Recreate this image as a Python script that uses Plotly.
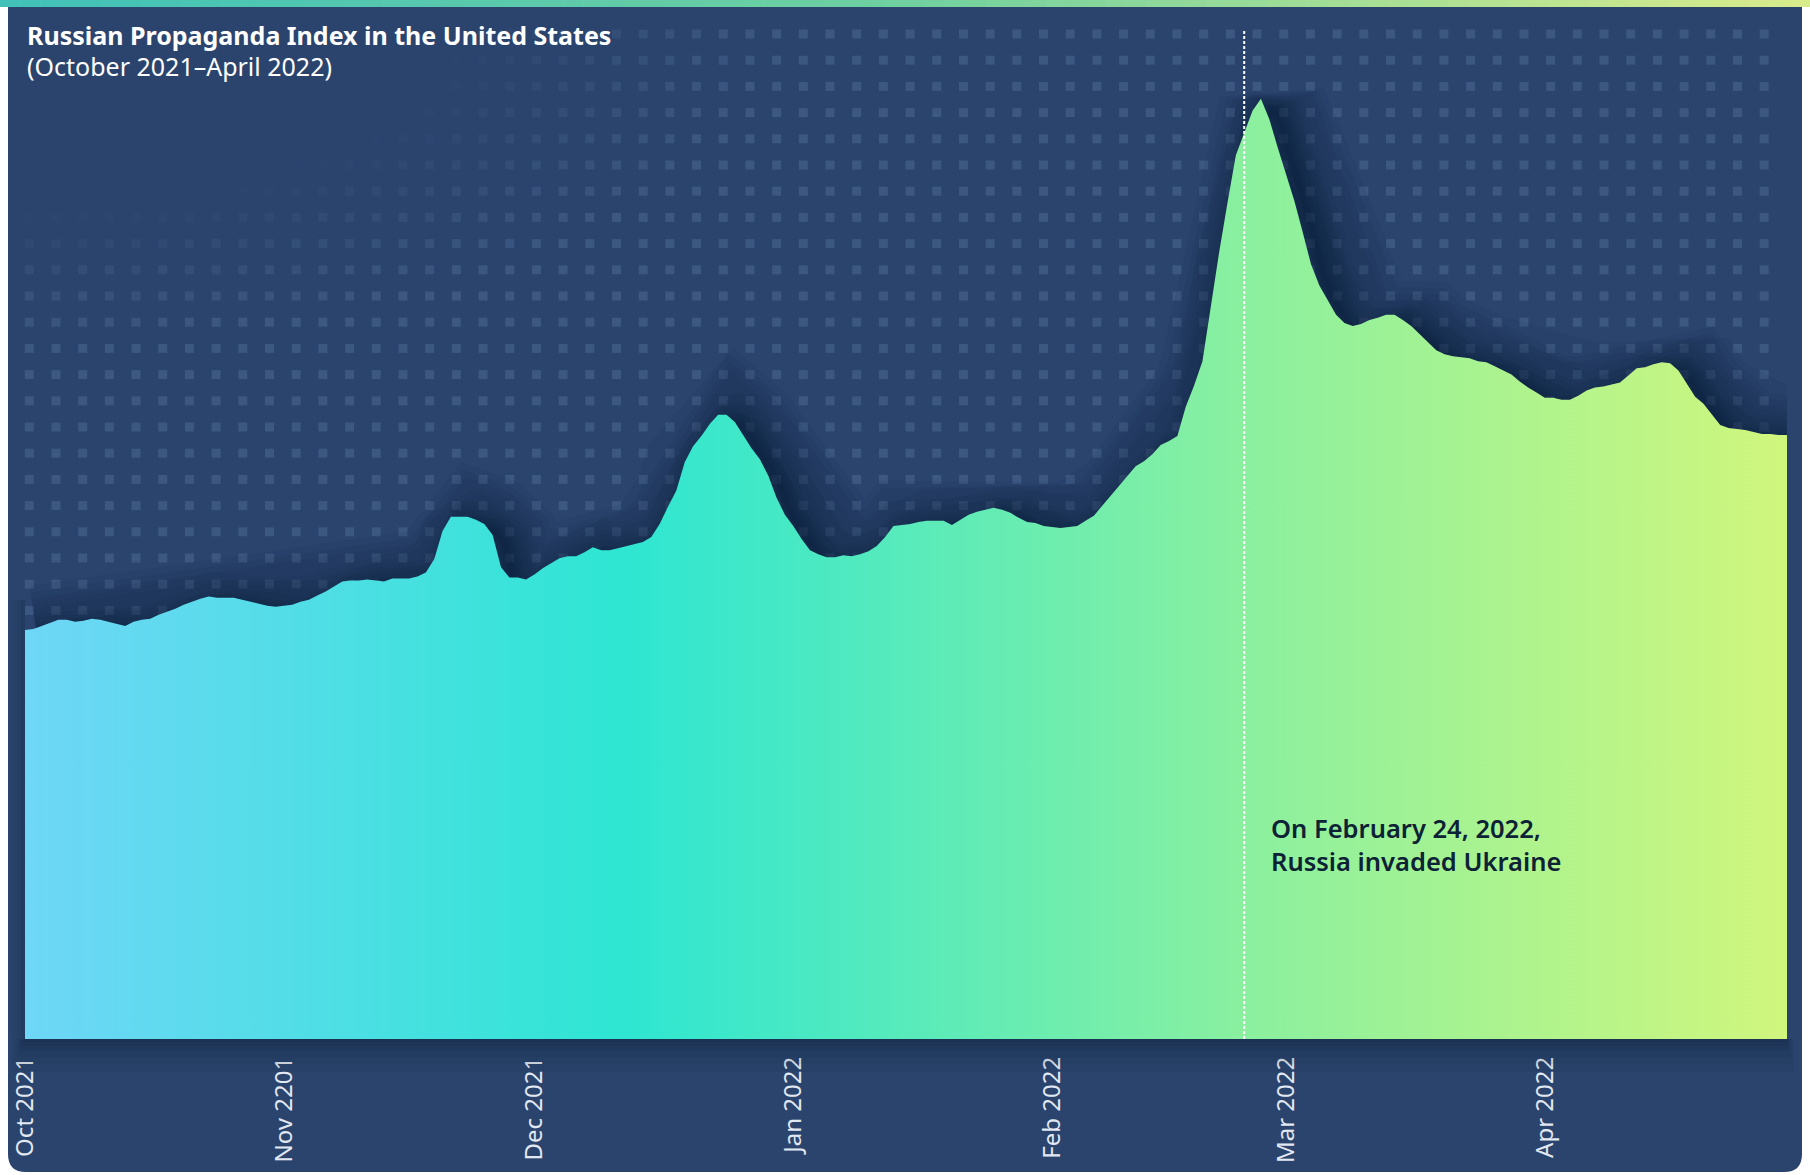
import numpy as np
import pandas as pd
import plotly.graph_objects as go

# ---- data -------------------------------------------------------------
dates = pd.date_range("2021-10-01", "2022-04-30", freq="D")

index_values = [
    40.5, 40.6, 40.9, 41.2, 41.5, 41.5, 41.3, 41.4, 41.6, 41.5,
    41.3, 41.1, 40.9, 41.3, 41.5, 41.6, 42.0, 42.3, 42.6, 43.0,
    43.3, 43.6, 43.8, 43.7, 43.7, 43.7, 43.5, 43.3, 43.1, 42.9,
    42.8, 42.9, 43.0, 43.3, 43.5, 43.9, 44.3, 44.8, 45.3, 45.4,
    45.4, 45.5, 45.4, 45.3, 45.6, 45.6, 45.6, 45.8, 46.2, 47.5,
    50.3, 51.7, 51.7, 51.7, 51.4, 51.0, 49.9, 46.7, 45.7, 45.7,
    45.5, 46.0, 46.6, 47.1, 47.6, 47.8, 47.8, 48.2, 48.7, 48.4,
    48.4, 48.6, 48.8, 49.0, 49.2, 49.7, 51.0, 52.7, 54.3, 57.1,
    58.7, 59.7, 60.9, 61.8, 61.8, 61.1, 59.8, 58.5, 57.4, 55.8,
    53.6, 51.9, 50.8, 49.5, 48.4, 48.0, 47.7, 47.7, 47.9, 47.8,
    48.0, 48.3, 48.8, 49.7, 50.8, 50.9, 51.0, 51.2, 51.3, 51.3,
    51.3, 50.9, 51.4, 51.9, 52.2, 52.4, 52.6, 52.4, 52.1, 51.6,
    51.2, 51.1, 50.8, 50.7, 50.6, 50.7, 50.8, 51.3, 51.8, 52.8,
    53.8, 54.8, 55.7, 56.7, 57.2, 57.9, 58.8, 59.2, 59.7, 62.6,
    64.7, 67.1, 72.5, 77.9, 82.8, 87.5, 89.7, 91.9, 93.1, 91.1,
    88.3, 85.7, 83.0, 79.9, 76.7, 74.6, 73.1, 71.7, 70.9, 70.6,
    70.8, 71.2, 71.4, 71.7, 71.7, 71.2, 70.6, 69.8, 68.9, 68.2,
    67.8, 67.6, 67.5, 67.4, 67.1, 67.0, 66.6, 66.2, 65.8, 65.1,
    64.5, 64.0, 63.5, 63.5, 63.3, 63.3, 63.7, 64.2, 64.5, 64.6,
    64.8, 65.0, 65.7, 66.4, 66.5, 66.8, 67.0, 66.9, 66.2, 64.9,
    63.6, 62.9, 61.9, 60.8, 60.5, 60.4, 60.3, 60.1, 59.9, 59.9,
    59.8, 59.8,
]

month_ticks = ["2021-10-01", "2021-11-01", "2021-12-01", "2022-01-01",
               "2022-02-01", "2022-03-01", "2022-04-01"]
month_labels = ["Oct 2021", "Nov 2201", "Dec 2021", "Jan 2022",
                "Feb 2022", "Mar 2022", "Apr 2022"]

invasion_date = "2022-02-24"
note_lines = ["On February 24, 2022,", "Russia invaded Ukraine"]
title_text = "Russian Propaganda Index in the United States"
subtitle_text = "(October 2021\u2013April 2022)"

# ---- geometry & palette ----------------------------------------------
W, H = 1810, 1175
L, R, T, B = 25, 1787, 29, 1039          # plot area in page pixels
CARD = "#2b446e"
DOT = (60, 87, 128)
SHADOW = "rgba(8,15,30,{a})"
FONT = "Noto Sans"


def px(xp):
    return (xp - L) / (R - L)


def py(yp):
    return (B - yp) / (B - T)


def pt(xp, yp):
    return f"{px(xp):.5f},{py(yp):.5f}"


fig = go.Figure()

# ---- decorative dot grid (page-pixel axes, drawn first) --------------
gx, gy, gc = [], [], []
for i in range(39):
    yy = 34 + 26.2 * i
    for j in range(67):
        xx = 29.3 + 26.69 * j
        d = np.hypot((xx - L) / 760.0, (yy - T) / 320.0)
        a = float(np.clip((d - 0.55) / 0.42, 0, 1))
        if a <= 0:
            continue
        gx.append(xx)
        gy.append(yy)
        gc.append(f"rgba({DOT[0]},{DOT[1]},{DOT[2]},{a:.2f})")

fig.add_trace(go.Scatter(
    x=gx, y=gy, mode="markers", xaxis="x", yaxis="y",
    marker=dict(symbol="square", size=9, color=gc, line=dict(width=0)),
    cliponaxis=False, hoverinfo="skip", showlegend=False,
))

# ---- soft shadow along the top of the area ---------------------------
shadow_x = dates + pd.Timedelta(hours=36)
shadow_y = [v - 1.0 for v in index_values]
for w in [110, 96, 84, 72, 62, 52, 44, 36, 29, 23, 17, 12, 7, 4]:
    fig.add_trace(go.Scatter(
        x=shadow_x, y=shadow_y, mode="lines", xaxis="x2", yaxis="y2",
        line=dict(color=SHADOW.format(a=0.05), width=w),
        hoverinfo="skip", showlegend=False,
    ))

# ---- the index area with horizontal gradient -------------------------
fig.add_trace(go.Scatter(
    x=dates, y=index_values, mode="lines", xaxis="x2", yaxis="y2",
    fill="tozeroy",
    fillgradient=dict(
        type="horizontal",
        colorscale=[[0.0, "#6fd6f7"], [0.34, "#2ee6d2"],
                    [0.70, "#8cf09e"], [1.0, "#d0f67d"]],
    ),
    line=dict(width=0, color="#2ee6d2"),
    name="Russian Propaganda Index", showlegend=False,
))

# ---- background shapes -----------------------------------------------
shapes = []
r = 18
card_path = (f"M{pt(8, 7)} L{pt(1802, 7)} L{pt(1802, 1172 - r)} "
             f"Q{pt(1802, 1172)} {pt(1802 - r, 1172)} L{pt(8 + r, 1172)} "
             f"Q{pt(8, 1172)} {pt(8, 1172 - r)} Z")
shapes.append(dict(type="path", path=card_path, xref="paper", yref="paper",
                   fillcolor=CARD, line=dict(width=0), layer="below"))

# top gradient strip
bar_stops = [(0.0, (64, 193, 184)), (0.5, (112, 208, 160)), (1.0, (218, 236, 139))]
n_seg = 90
for k in range(n_seg):
    f = (k + 0.5) / n_seg
    for (f0, c0), (f1, c1) in zip(bar_stops[:-1], bar_stops[1:]):
        if f0 <= f <= f1:
            t = (f - f0) / (f1 - f0)
            c = tuple(int(round(c0[m] + (c1[m] - c0[m]) * t)) for m in range(3))
            break
    x0 = W * k / n_seg
    x1 = W * (k + 1) / n_seg + 0.6
    shapes.append(dict(type="rect", xref="paper", yref="paper",
                       x0=px(x0), x1=px(x1), y0=py(7), y1=py(0),
                       fillcolor=f"rgb{c}", line=dict(width=0), layer="below"))

# shadow under the bottom edge and left edge of the area
for h in [3, 7, 12, 18, 25, 33]:
    shapes.append(dict(type="rect", xref="paper", yref="paper",
                       x0=px(L - h * 0.4), x1=px(R + h * 0.2), y0=py(B + h), y1=py(B),
                       fillcolor=SHADOW.format(a=0.06), line=dict(width=0),
                       layer="above"))
for h in [4, 8, 13]:
    shapes.append(dict(type="rect", xref="paper", yref="paper",
                       x0=px(L - h), x1=px(L), y0=py(B), y1=py(600),
                       fillcolor=SHADOW.format(a=0.06), line=dict(width=0),
                       layer="above"))

# invasion marker
shapes.append(dict(type="line", xref="x2", yref="paper",
                   x0=invasion_date, x1=invasion_date, y0=0, y1=1,
                   line=dict(color="white", width=2, dash="3px,2px"),
                   layer="above"))

# ---- text -------------------------------------------------------------
annotations = [
    dict(xref="x", yref="y", x=L, xshift=0, y=35, xanchor="left", yanchor="middle",
         text=f"<b>{title_text}</b>", showarrow=False,
         font=dict(family=FONT, size=25, color="white")),
    dict(xref="x", yref="y", x=L, xshift=0, y=66, xanchor="left", yanchor="middle",
         text=subtitle_text, showarrow=False,
         font=dict(family=FONT, size=25, color="white")),
]
for k, line_text in enumerate(note_lines):
    annotations.append(dict(
        xref="x2", yref="y", x=invasion_date, xshift=25, y=828 + 33 * k,
        xanchor="left", yanchor="middle", text=line_text, showarrow=False,
        font=dict(family=FONT, size=25.5, color="#0e2236", weight=600),
    ))

fig.update_layout(
    width=W, height=H,
    margin=dict(l=L, r=W - R, t=T, b=H - B, pad=0),
    paper_bgcolor="white", plot_bgcolor="rgba(0,0,0,0)",
    showlegend=False,
    xaxis=dict(range=[L, R], visible=False, fixedrange=True),
    yaxis=dict(range=[B, T], visible=False, fixedrange=True),
    xaxis2=dict(
        overlaying="x", anchor="y2", side="bottom", type="date",
        range=[dates[0], dates[-1]], automargin=False,
        tickvals=month_ticks, ticktext=month_labels, tickangle=-90,
        ticks="", ticklabelstandoff=12, showgrid=False, zeroline=False,
        showline=False,
        tickfont=dict(family=FONT, size=24, color="#e2e8f1"),
    ),
    yaxis2=dict(overlaying="y", range=[0, 100], visible=False),
    shapes=shapes,
    annotations=annotations,
)

fig.write_html("out.html")
